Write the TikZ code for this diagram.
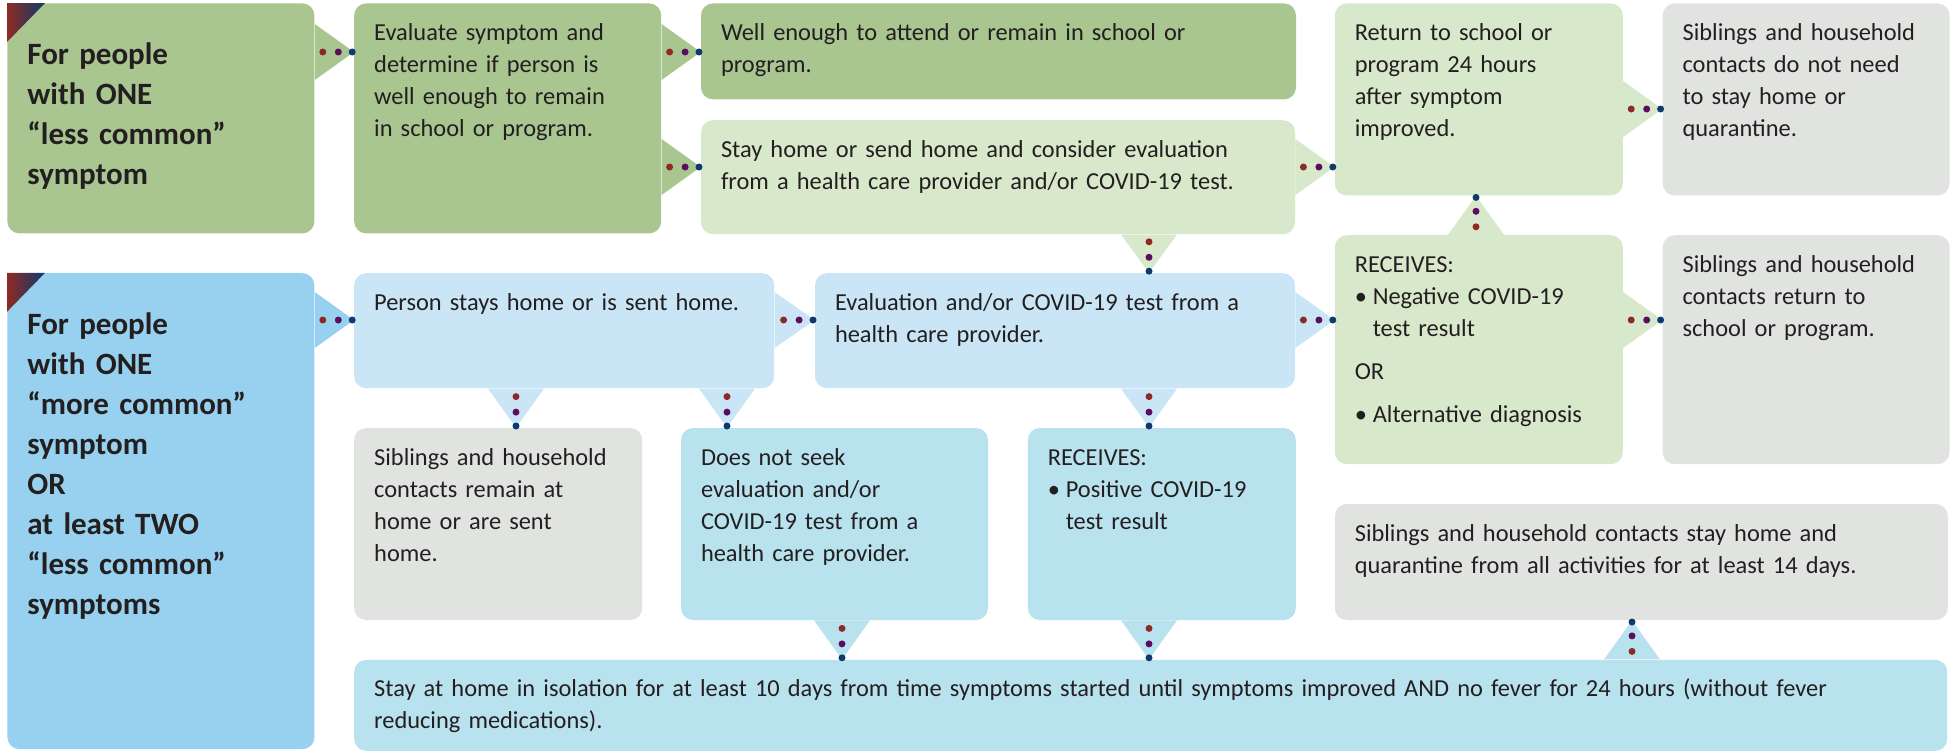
\documentclass[tikz,border=0pt]{standalone}
\usepackage{fontspec}
\setmainfont{Carlito}
\usetikzlibrary{positioning, calc}

\definecolor{greenD}{HTML}{A9C590}
\definecolor{greenL}{HTML}{D7E8CB}
\definecolor{blueH}{HTML}{97D1EF}
\definecolor{blueL}{HTML}{C9E5F6}
\definecolor{blueC}{HTML}{B9E2EF}
\definecolor{greyB}{HTML}{E1E3E1}
\definecolor{dotred}{HTML}{8E2A24}
\definecolor{dotpurple}{HTML}{5B0D5F}
\definecolor{dotnavy}{HTML}{0F3A6E}
\definecolor{ink}{HTML}{231F20}

\tikzstyle{box} = [rectangle, rounded corners=6pt, anchor=north west, align=left, inner xsep=10pt, inner ysep=0pt, text=ink, font=\fontsize{12.2}{16}\selectfont, text height=18.5pt, /utils/exec={\def\boxtop{18.5pt}}]
\tikzstyle{header} = [box, font=\fontsize{15.5}{20}\selectfont\bfseries, text height=30.5pt, /utils/exec={\def\boxtop{30.5pt}}]
\tikzset{
    size/.code 2 args={%
        \pgfmathsetlengthmacro\boxwd{#1-20pt}%
        \pgfmathsetlengthmacro\boxdp{#2-\boxtop}%
        \tikzset{text width/.expanded=\boxwd, text depth/.expanded=\boxdp}}
}

% triangle from the source edge (#2) to the target edge (#3), three dots
\newcommand{\link}[3]{%
    \fill[#1] ($(#2)!14pt!90:(#3)$) -- (#3) -- ($(#2)!14pt!-90:(#3)$) -- cycle;
    \fill[dotred] ($(#3)!15.5pt!(#2)$) circle (1.75pt);
    \fill[dotpurple] ($(#3)!7.75pt!(#2)$) circle (1.75pt);
    \fill[dotnavy] ($(#3)!0.8pt!(#2)$) circle (1.75pt);
}

\begin{document}
\begin{tikzpicture}[
    node distance=19.5pt
]
    \useasboundingbox (0,0) rectangle (977.5pt,-375.5pt);

    % one less common symptom
    \node[header, fill=greenD, size={153.5pt}{115pt}] (one) at (3.5pt,-1.5pt) {For people\\with ONE\\“less common”\\symptom};
    \node[box, fill=greenD, size={153.5pt}{115pt}, right=of one.north east, anchor=north west] (evaluate) {Evaluate symptom and\\determine if person is\\well enough to remain\\in school or program.};
    \node[box, fill=greenD, size={297.5pt}{48pt}, right=of evaluate.north east, anchor=north west] (well) {Well enough to attend or remain in school or\\program.};
    \node[box, fill=greenL, size={297pt}{57pt}, below=10pt of well.south west, anchor=north west] (stayhome) {Stay home or send home and consider evaluation\\from a health care provider and/or COVID-19 test.};
    \node[box, fill=greenL, size={144pt}{96pt}, right=19pt of well.north east, anchor=north west] (return) {Return to school or\\program 24 hours\\after symptom\\improved.};
    \node[box, fill=greyB, size={143.5pt}{96pt}, right=of return.north east, anchor=north west] (sibsok) {Siblings and household\\contacts do not need\\to stay home or\\quarantine.};
    \node[box, fill=greenL, size={144pt}{114.5pt}, below=of return.south west, anchor=north west] (negative) {RECEIVES:\\
        \makebox[9pt][l]{\textbullet}Negative COVID-19\\
        \hspace*{9pt}test result\\[5.5pt]
        OR\\[5.5pt]
        \makebox[9pt][l]{\textbullet}Alternative diagnosis};
    \node[box, fill=greyB, size={143.5pt}{114.5pt}, right=of negative.north east, anchor=north west] (sibsback) {Siblings and household\\contacts return to\\school or program.};

    % more common symptom
    \node[header, fill=blueH, size={153.5pt}{238pt}, below=of one.south west, anchor=north west] (more) {For people\\with ONE\\“more common”\\symptom\\OR\\at least TWO\\“less common”\\symptoms};
    \node[box, fill=blueL, size={210pt}{57.5pt}, right=of more.north east, anchor=north west] (person) {Person stays home or is sent home.};
    \node[box, fill=blueL, size={240pt}{57.5pt}, right=20pt of person.north east, anchor=north west] (evaluation) {Evaluation and/or COVID-19 test from a\\health care provider.};
    \node[box, fill=greyB, size={144pt}{96pt}, below=of person.south west, anchor=north west] (sibsstay) {Siblings and household\\contacts remain at\\home or are sent\\home.};
    \node[box, fill=blueC, size={153.5pt}{96pt}, right=19pt of sibsstay.north east, anchor=north west] (noseek) {Does not seek\\evaluation and/or\\COVID-19 test from a\\health care provider.};
    \node[box, fill=blueC, size={134pt}{96pt}, right=of noseek.north east, anchor=north west] (positive) {RECEIVES:\\
        \makebox[9pt][l]{\textbullet}Positive COVID-19\\
        \hspace*{9pt}test result};
    \node[box, fill=greyB, size={306.5pt}{58pt}, below=of negative.south west, anchor=north west] (quarantine) {Siblings and household contacts stay home and\\quarantine from all activities for at least 14 days.};
    \node[box, fill=blueC, size={796.5pt}{45.5pt}, below=of sibsstay.south west, anchor=north west] (isolation) {Stay at home in isolation for at least 10 days from time symptoms started until symptoms improved AND no fever for 24 hours (without fever\\reducing medications).};

    % corner marks
    \shade[left color=dotred, middle color=dotpurple, right color=dotnavy] (one.north west) -- ++(19pt,0) -- ++(-19pt,-19.5pt) -- cycle;
    \shade[left color=dotred, middle color=dotpurple, right color=dotnavy] (more.north west) -- ++(19pt,0) -- ++(-19pt,-19.5pt) -- cycle;

    % connectors
    \link{greenD}{one.east |- 0,-26pt}{evaluate.west |- 0,-26pt}
    \link{greenD}{evaluate.east |- 0,-26pt}{well.west |- 0,-26pt}
    \link{greenD}{evaluate.east |- 0,-83.5pt}{stayhome.west |- 0,-83.5pt}
    \link{greenL}{stayhome.east |- 0,-83.5pt}{return.west |- 0,-83.5pt}
    \link{greenL}{return.east |- 0,-54.5pt}{sibsok.west |- 0,-54.5pt}
    \link{greenL}{stayhome.south -| 574.5pt,0}{evaluation.north -| 574.5pt,0}
    \link{greenL}{negative.north -| 738pt,0}{return.south -| 738pt,0}
    \link{greenL}{negative.east |- 0,-160pt}{sibsback.west |- 0,-160pt}
    \link{blueH}{more.east |- 0,-160pt}{person.west |- 0,-160pt}
    \link{blueL}{person.east |- 0,-160pt}{evaluation.west |- 0,-160pt}
    \link{blueL}{evaluation.east |- 0,-160pt}{negative.west |- 0,-160pt}
    \link{blueL}{person.south -| 258pt,0}{sibsstay.north -| 258pt,0}
    \link{blueL}{person.south -| 363.5pt,0}{noseek.north -| 363.5pt,0}
    \link{blueL}{evaluation.south -| 574.5pt,0}{positive.north -| 574.5pt,0}
    \link{blueC}{noseek.south -| 421pt,0}{isolation.north -| 421pt,0}
    \link{blueC}{positive.south -| 574.5pt,0}{isolation.north -| 574.5pt,0}
    \link{blueC}{isolation.north -| 816pt,0}{quarantine.south -| 816pt,0}
\end{tikzpicture}
\end{document}
